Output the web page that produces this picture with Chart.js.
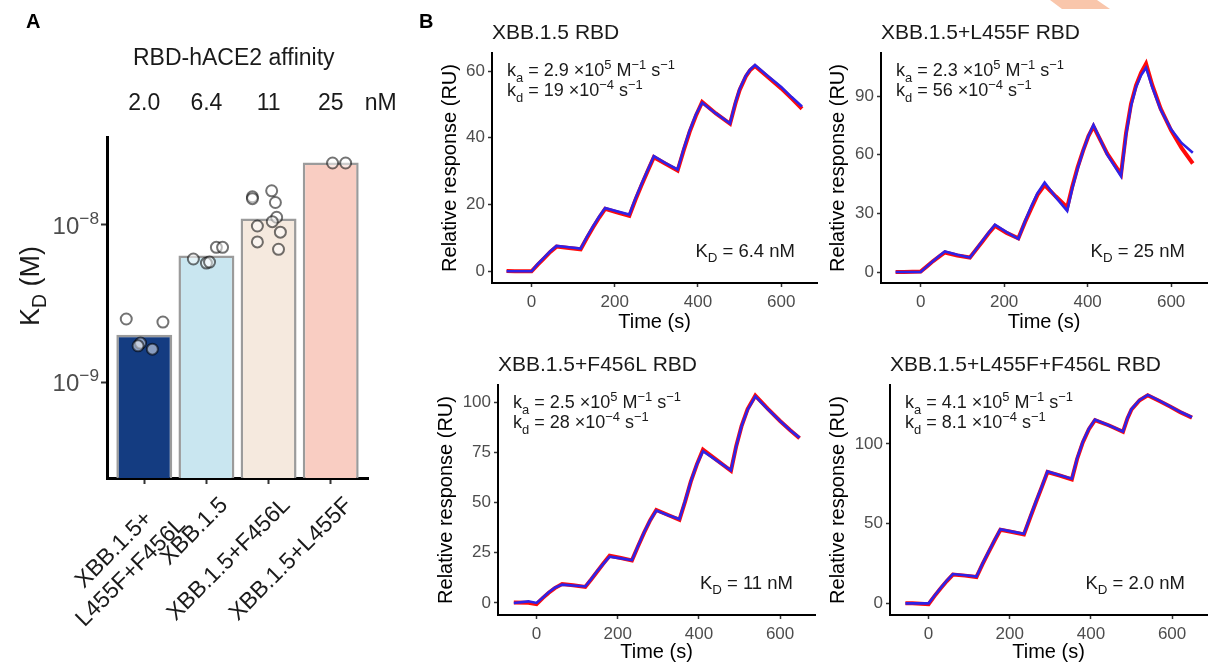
<!DOCTYPE html>
<html>
<head>
<meta charset="utf-8">
<script src="https://cdn.jsdelivr.net/npm/chart.js@4.4.1/dist/chart.umd.min.js"></script>
<style>
  body { margin: 0; width: 1213px; height: 662px; background: #fff; position: relative; overflow: hidden; }
  canvas { position: absolute; }
  #mark { position: absolute; left: 1050px; top: 0; width: 60px; height: 9px; background: #f9c6ab;
          clip-path: polygon(0 0, 47px 0, 60px 9px, 12px 9px); }
</style>
</head>
<body>
<div id="mark"></div>
<script>
const FONT = '"Liberation Sans", Arial, sans-serif';

// ---- panel A: KD of RBD-hACE2 ----
const variants = ['XBB.1.5+\nL455F+F456L', 'XBB.1.5', 'XBB.1.5+F456L', 'XBB.1.5+L455F'];
const kdMean = [2.0e-9, 6.4e-9, 11e-9, 25e-9];
const kdText = ['2.0', '6.4', '11', '25'];
const barColors = ['#143c81', '#c9e6f0', '#f5e9de', '#f9cdc2'];
const repGroup = [0, 0, 0, 0, 0, 1, 1, 1, 1, 1, 2, 2, 2, 2, 2, 2, 2, 2, 2, 2, 3, 3];
const repJitter = [-0.29, 0.30, -0.06, -0.10, 0.13, -0.21, 0, 0.05, 0.16, 0.26,
  -0.26, -0.26, 0.05, 0.11, 0.13, 0.06, -0.18, 0.19, -0.18, 0.16, 0.03, 0.24];
const repKd = [2.52e-9, 2.41e-9, 1.77e-9, 1.70e-9, 1.62e-9,
  6.07e-9, 5.72e-9, 5.8e-9, 7.2e-9, 7.2e-9,
  1.51e-8, 1.47e-8, 1.65e-8, 1.39e-8, 1.12e-8, 1.05e-8, 9.85e-9, 9.0e-9, 7.8e-9, 7.0e-9,
  2.48e-8, 2.48e-8];
const kdTicks = [1e-9, 1e-8];
const kdTickExp = ['\u22129', '\u22128'];

// ---- panel B: SPR sensorgrams ----
const titles = ['XBB.1.5 RBD', 'XBB.1.5+L455F RBD', 'XBB.1.5+F456L RBD', 'XBB.1.5+L455F+F456L RBD'];
const kaVal = ['2.9', '2.3', '2.5', '4.1'];
const kdVal = ['19', '56', '28', '8.1'];
const kdNM = ['6.4', '25', '11', '2.0'];
const timeTicks = [0, 200, 400, 600];
const respTicks = [[0, 20, 40, 60], [0, 30, 60, 90], [0, 25, 50, 75, 100], [0, 50, 100]];
const respMin = [-3.5, -5.6, -6.0, -7.3];
const respMax = [65.4, 112, 108.5, 137];

// XBB.1.5
const t1 = [-60, -40, 0, 15, 30, 45, 60, 90, 118, 133, 148, 163, 177, 205, 235, 250, 265, 280, 294, 322, 351,
  366, 380, 395, 410, 443, 477, 490, 500, 515, 525, 537, 570, 600, 625, 650];
const obs1 = [0.1, 0, 0, 2.0, 3.9, 5.8, 7.4, 7.0, 6.6, 10.0, 13.2, 16.2, 18.7, 17.7, 16.6, 21.5, 26.0, 30.3, 34.2, 32.2, 30.2,
  36.4, 41.8, 46.6, 50.7, 47.3, 44.2, 50.3, 54.3, 58.4, 60.2, 61.5, 58.0, 54.8, 51.8, 48.7];
const fit1 = [0, 0, 0, 2.2, 4.1, 6.0, 7.6, 7.2, 6.8, 10.3, 13.5, 16.5, 19.0, 18.0, 17.0, 21.9, 26.4, 30.6, 34.5, 32.4, 30.5,
  36.8, 42.2, 47.0, 50.5, 47.3, 44.3, 50.6, 54.6, 58.6, 60.4, 61.8, 58.3, 55.2, 52.2, 49.4];

// XBB.1.5+L455F
const t2 = [-60, -40, 0, 15, 30, 45, 58, 88, 118, 133, 148, 163, 178, 206, 234, 250, 265, 280, 297, 324, 351,
  363, 376, 389, 402, 414, 447, 480, 492, 504, 516, 528, 540, 555, 575, 600, 625, 652];
const obs2 = [0, 0, 0.3, 2.9, 5.6, 8.0, 10.0, 8.5, 7.4, 11.5, 15.6, 19.8, 23.6, 20.0, 17.3, 25.5, 32.5, 39.5, 44.5, 38.6, 33.0,
  43.5, 53.5, 62.0, 69.5, 74.5, 60.5, 50.0, 71.0, 86.0, 95.5, 101.8, 106.5, 95.5, 83.5, 72.5, 63.5, 55.5];
const fit2 = [0, 0, 0, 2.9, 5.7, 8.3, 10.5, 8.8, 7.4, 11.7, 16.0, 20.2, 24.2, 20.4, 17.0, 26.0, 33.6, 40.3, 45.8, 38.2, 31.3,
  42.5, 52.8, 61.8, 69.6, 75.3, 60.0, 49.0, 70.0, 85.0, 94.5, 100.6, 104.5, 94.5, 83.0, 73.0, 66.0, 61.0];

// XBB.1.5+F456L
const t3 = [-56, -20, 0, 15, 30, 45, 63, 90, 120, 135, 150, 165, 180, 208, 235, 250, 265, 280, 295, 324, 352,
  366, 380, 395, 410, 445, 479, 492, 505, 520, 539, 570, 600, 625, 648];
const obs3 = [0.2, 0.1, -0.6, 2.4, 5.1, 7.4, 9.4, 8.8, 8.0, 11.8, 15.8, 19.8, 23.5, 22.4, 21.2, 28.2, 35.0, 41.2, 46.3, 43.8, 41.4,
  50.5, 60.4, 69.0, 76.3, 71.0, 65.8, 78.2, 88.0, 96.5, 103.2, 96.6, 90.6, 86.0, 82.0];
const fit3 = [0, 0.8, 0, 2.6, 5.3, 7.6, 9.1, 8.7, 8.2, 12.0, 16.0, 19.6, 23.0, 22.2, 21.3, 28.4, 35.2, 41.2, 46.0, 43.7, 41.8,
  50.8, 60.5, 69.0, 75.5, 70.7, 66.0, 78.0, 88.0, 96.2, 102.8, 96.4, 90.6, 86.0, 82.3];

// XBB.1.5+L455F+F456L
const t4 = [-57, -40, 0, 15, 30, 45, 60, 90, 118, 133, 148, 163, 177, 206, 235, 250, 265, 280, 293, 323, 353,
  366, 380, 395, 410, 445, 479, 490, 500, 520, 540, 570, 595, 620, 649];
const obs4 = [0, 0, -0.5, 4.7, 9.5, 14.0, 18.1, 17.4, 16.5, 24.6, 32.2, 39.6, 46.2, 44.8, 43.3, 53.6, 63.8, 73.6, 82.4, 80.2, 77.8,
  90.6, 101.0, 109.3, 115.0, 111.6, 107.6, 116.0, 121.6, 127.4, 130.6, 126.8, 123.5, 120.0, 116.5];
const fit4 = [0, 0, 0, 4.9, 9.7, 14.2, 18.4, 17.6, 16.8, 24.9, 32.5, 39.9, 46.5, 45.0, 43.6, 54.0, 64.2, 74.0, 82.8, 80.4, 78.2,
  91.0, 101.4, 109.6, 115.3, 111.6, 107.8, 116.2, 121.9, 127.6, 130.8, 127.0, 123.6, 120.2, 116.8];

const times = [t1, t2, t3, t4];
const observed = [obs1, obs2, obs3, obs4];
const fitted = [fit1, fit2, fit3, fit4];

// canvas rect + plot area for each sensorgram (page px)
const boxes = [
  { cl: 415, ct: 0, cw: 405, ch: 335, al: 492, at: 53, ar: 817, ab: 283, yt: 450, xt: 322 },
  { cl: 820, ct: 0, cw: 393, ch: 335, al: 881, at: 53, ar: 1207, ab: 283, yt: 838, xt: 322 },
  { cl: 415, ct: 330, cw: 405, ch: 332, al: 498, at: 385, ar: 815, ab: 615, yt: 446, xt: 652 },
  { cl: 820, ct: 330, cw: 393, ch: 332, al: 890, at: 385, ar: 1207, ab: 615, yt: 838, xt: 652 }
];

// text with sub/superscripts: parts = [[text, 0 normal | 1 sub | 2 sup]]
function drawRich(ctx, x, y, parts, size, align) {
  const small = size * 0.72;
  let w = 0;
  parts.forEach(p => {
    ctx.font = (p[1] ? small : size) + 'px ' + FONT;
    w += ctx.measureText(p[0]).width;
  });
  let cx = align === 'right' ? x - w : align === 'center' ? x - w / 2 : x;
  const base = y + size * 0.36;
  ctx.textAlign = 'left';
  ctx.textBaseline = 'alphabetic';
  parts.forEach(p => {
    ctx.font = (p[1] ? small : size) + 'px ' + FONT;
    const dy = p[1] === 1 ? size * 0.28 : p[1] === 2 ? -size * 0.4 : 0;
    ctx.fillText(p[0], cx, base + dy);
    cx += ctx.measureText(p[0]).width;
  });
}

function makeCanvas(l, t, w, h) {
  const c = document.createElement('canvas');
  c.width = w; c.height = h;
  c.style.left = l + 'px'; c.style.top = t + 'px';
  document.body.appendChild(c);
  return c;
}

// ---------- panel A ----------
const headerA = {
  id: 'headerA',
  afterDraw(chart) {
    const ctx = chart.ctx, xs = chart.scales.x, ys = chart.scales.y;
    ctx.save();
    ctx.fillStyle = '#000';
    ctx.font = 'bold 20px ' + FONT;
    ctx.textAlign = 'left';
    ctx.textBaseline = 'alphabetic';
    ctx.fillText('A', 26, 28);
    ctx.fillStyle = '#1a1a1a';
    ctx.font = '23px ' + FONT;
    ctx.fillText('RBD-hACE2 affinity', 133, 65);
    ctx.textAlign = 'center';
    kdText.forEach((s, i) => ctx.fillText(s, xs.getPixelForValue(i), 110));
    ctx.fillText('nM', xs.getPixelForValue(3) + 50, 110);
    // log tick labels with real superscripts
    ctx.fillStyle = '#4d4d4d';
    kdTicks.forEach((v, i) => drawRich(ctx, ys.right - 8, ys.getPixelForValue(v), [['10', 0], [kdTickExp[i], 2]], 24, 'right'));
    ctx.fillStyle = '#1a1a1a';
    ctx.translate(29, 286);
    ctx.rotate(-Math.PI / 2);
    drawRich(ctx, 0, 0, [['K', 0], ['D', 1], [' (M)', 0]], 27, 'center');
    ctx.restore();
  }
};

const cA = makeCanvas(0, 0, 415, 662);
new Chart(cA, {
  type: 'bar',
  data: {
    datasets: [
      {
        type: 'scatter',
        data: repKd.map((v, i) => ({ x: repGroup[i] + repJitter[i], y: v })),
        pointRadius: 5.5,
        borderWidth: 2,
        borderColor: 'rgba(0,0,0,0.55)',
        backgroundColor: 'rgba(255,255,255,0.5)',
        order: 1
      },
      {
        type: 'bar',
        data: kdMean.map((v, i) => ({ x: i, y: v })),
        backgroundColor: barColors,
        borderColor: '#9b9b9b',
        borderWidth: 2.5,
        barPercentage: 0.9,
        categoryPercentage: 1,
        order: 2
      }
    ]
  },
  options: {
    responsive: false,
    animation: false,
    layout: { padding: { left: 0, top: 137, right: 47, bottom: 0 } },
    plugins: { legend: { display: false }, tooltip: { enabled: false } },
    scales: {
      x: {
        type: 'linear', min: -0.6, max: 3.6, offset: false,
        afterBuildTicks: s => { s.ticks = variants.map((_, i) => ({ value: i })); },
        afterFit: s => { s.height = 184; },
        grid: { offset: false, drawOnChartArea: false, tickLength: 6, tickWidth: 2, tickColor: '#333' },
        border: { color: '#000', width: 3 },
        ticks: {
          autoSkip: false, minRotation: 45, maxRotation: 45, padding: 8, labelOffset: 18,
          color: '#1a1a1a', font: { family: FONT, size: 23 },
          // two-line label: lines are centred on each other, as in the source figure
          callback: v => {
            const l = variants[v].split('\n');
            return l.length > 1 ? [l[0] + '   ', l[1]] : l[0];
          }
        }
      },
      y: {
        type: 'logarithmic', min: 2.45e-10, max: 3.63e-8,
        afterBuildTicks: s => { s.ticks = kdTicks.map(v => ({ value: v })); },
        afterFit: s => { s.width = 107; },
        grid: { drawOnChartArea: false, tickLength: 6, tickWidth: 2, tickColor: '#333' },
        border: { color: '#000', width: 3 },
        ticks: { display: false }
      }
    }
  },
  plugins: [headerA]
});

// ---------- panel B ----------
function sensorChart(k) {
  const b = boxes[k];
  const c = makeCanvas(b.cl, b.ct, b.cw, b.ch);
  const notes = {
    id: 'notes' + k,
    afterDraw(chart) {
      const ctx = chart.ctx, a = chart.chartArea;
      ctx.save();
      ctx.fillStyle = '#000';
      if (k === 0) {
        ctx.font = 'bold 20px ' + FONT;
        ctx.textAlign = 'left';
        ctx.textBaseline = 'alphabetic';
        ctx.fillText('B', 419 - b.cl, 28);
      }
      ctx.fillStyle = '#1a1a1a';
      drawRich(ctx, a.left, a.top - 22, [[titles[k], 0]], 21, 'left');
      drawRich(ctx, a.left + 15, a.top + 17, [['k', 0], ['a', 1], [' = ' + kaVal[k] + ' \u00d7', 0], ['10', 0], ['5', 2],
        [' M', 0], ['\u22121', 2], [' s', 0], ['\u22121', 2]], 18, 'left');
      drawRich(ctx, a.left + 15, a.top + 37, [['k', 0], ['d', 1], [' = ' + kdVal[k] + ' \u00d7', 0], ['10', 0], ['\u22124', 2],
        [' s', 0], ['\u22121', 2]], 18, 'left');
      drawRich(ctx, a.right - 22, a.bottom - 33, [['K', 0], ['D', 1], [' = ' + kdNM[k] + ' nM', 0]], 18.5, 'right');
      ctx.restore();
    }
  };
  new Chart(c, {
    type: 'line',
    data: {
      datasets: [
        {
          data: times[k].map((t, i) => ({ x: t, y: fitted[k][i] })),
          borderColor: '#2e22e8', borderWidth: 2.6, pointRadius: 0, tension: 0, order: 1
        },
        {
          data: times[k].map((t, i) => ({ x: t, y: observed[k][i] })),
          borderColor: '#ff0a0a', borderWidth: 4, pointRadius: 0, tension: 0, order: 2
        }
      ]
    },
    options: {
      responsive: false,
      animation: false,
      layout: { padding: { left: 0, top: b.at - b.ct, right: b.cl + b.cw - b.ar, bottom: 0 } },
      plugins: { legend: { display: false }, tooltip: { enabled: false } },
      scales: {
        x: {
          type: 'linear', min: -95, max: 686,
          afterBuildTicks: s => { s.ticks = timeTicks.map(v => ({ value: v })); },
          afterFit: s => { s.height = b.ct + b.ch - b.ab; },
          grid: { drawOnChartArea: false, tickLength: 4, tickWidth: 1.5, tickColor: '#333' },
          border: { color: '#000', width: 2 },
          ticks: { padding: 5, color: '#4d4d4d', font: { family: FONT, size: 17 } },
          title: {
            display: true, text: 'Time (s)', color: '#000',
            font: { family: FONT, size: 20, lineHeight: 1 },
            padding: { top: 0, bottom: b.ct + b.ch - b.xt - 10 }
          }
        },
        y: {
          min: respMin[k], max: respMax[k],
          afterBuildTicks: s => { s.ticks = respTicks[k].map(v => ({ value: v })); },
          afterFit: s => { s.width = b.al - b.cl; },
          grid: { drawOnChartArea: false, tickLength: 4, tickWidth: 1.5, tickColor: '#333' },
          border: { color: '#000', width: 2 },
          ticks: { padding: 3, color: '#4d4d4d', font: { family: FONT, size: 17 } },
          title: {
            display: true, text: 'Relative response (RU)', color: '#000',
            font: { family: FONT, size: 20, lineHeight: 1 },
            padding: { top: b.yt - b.cl - 10, bottom: 0 }
          }
        }
      }
    },
    plugins: [notes]
  });
}

[0, 1, 2, 3].forEach(sensorChart);
</script>
</body>
</html>
